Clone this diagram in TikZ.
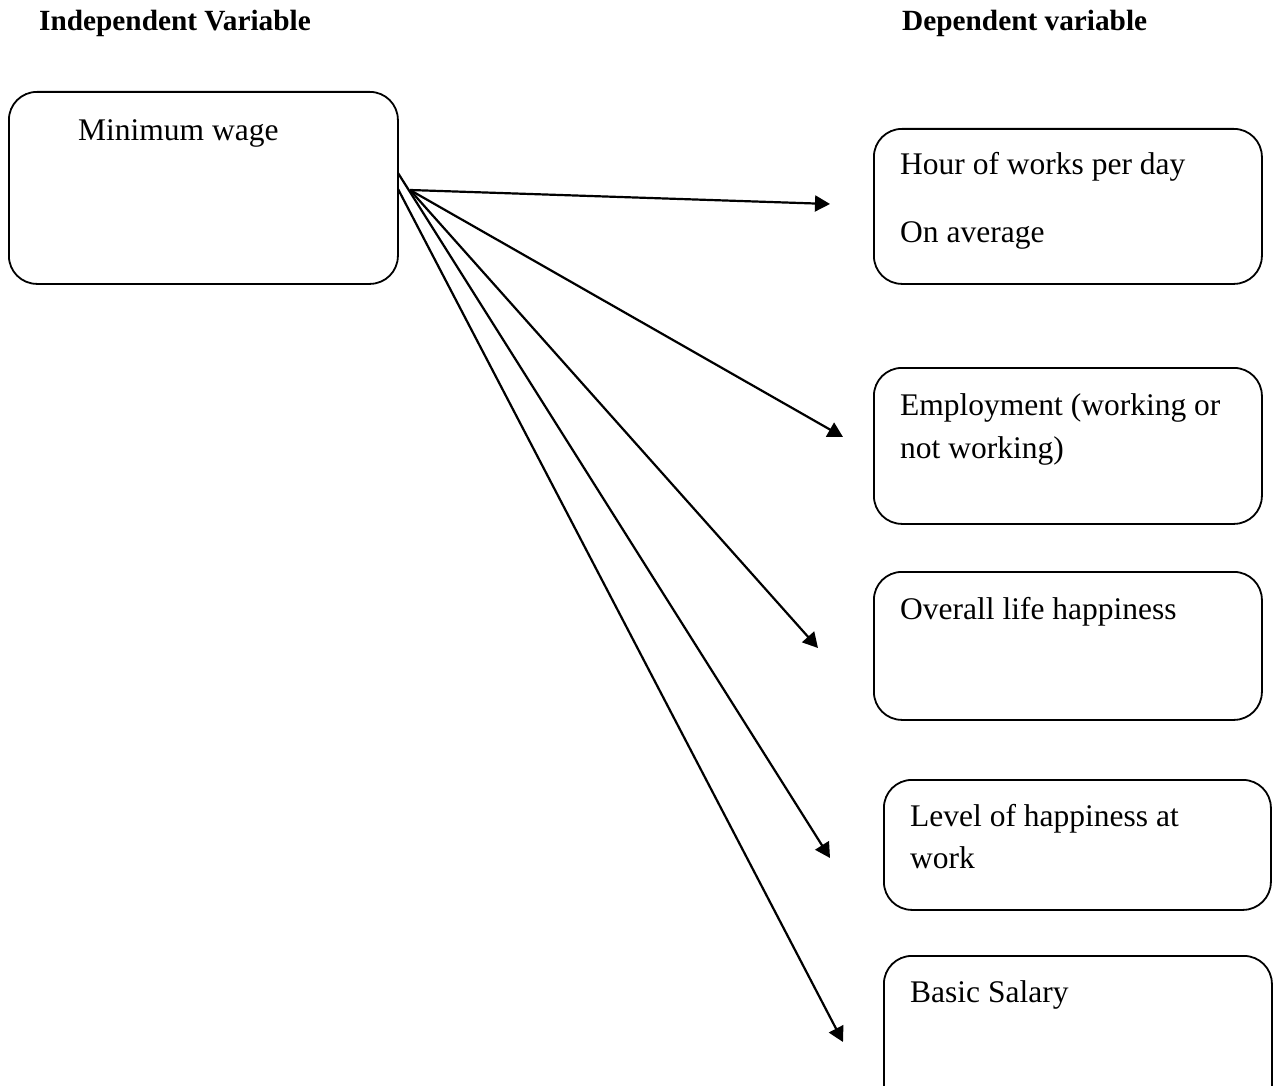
\documentclass[tikz,border=0pt]{standalone}
\usepackage{fontspec}
\setmainfont{Liberation Serif}
\usetikzlibrary{arrows.meta}
\tikzset{
  box/.style={draw=black, line width=1.8pt, rounded corners=28pt, anchor=north west, inner sep=0pt},
  txt/.style={anchor=base west, inner sep=0pt, font=\fontsize{31.5}{36}\selectfont},
  head/.style={anchor=base west, inner sep=0pt, font=\fontsize{29.3}{34}\selectfont\bfseries},
  arr/.style={line width=2.2pt, -{Triangle[length=15pt,width=16pt]}}
}
\begin{document}
\begin{tikzpicture}[x=1pt,y=-1pt]
\useasboundingbox (0,0) rectangle (1277,1086);
\begin{scope}
\clip (0,0) rectangle (1277,1086);
% headers
\node[head] (hind) at (39,31) {Independent Variable};
\node[head] (hdep) at (902,31) {Dependent variable};
% boxes
\node[box, minimum width=389pt, minimum height=192pt] (b0) at (8,91) {};
\node[box, minimum width=388pt, minimum height=155pt] (b1) at (873,128) {};
\node[box, minimum width=388pt, minimum height=156pt] (b2) at (873,367) {};
\node[box, minimum width=388pt, minimum height=148pt] (b3) at (873,571) {};
\node[box, minimum width=387pt, minimum height=130pt] (b4) at (883,779) {};
\node[box, minimum width=388pt, minimum height=160pt] (b5) at (883,955) {};
% texts
\node[txt] (t0) at (78,141) {Minimum wage};
\node[txt] (t1a) at (900,175) {Hour of works per day};
\node[txt] (t1b) at (900,243) {On average};
\node[txt] (t2a) at (900,415) {Employment (working or};
\node[txt] (t2b) at (900,458) {not working)};
\node[txt] (t3) at (900,619) {Overall life happiness};
\node[txt] (t4a) at (910,826) {Level of happiness at};
\node[txt] (t4b) at (910,868) {work};
\node[txt] (t5) at (910,1002) {Basic Salary};
% connector end points
\coordinate (sC) at (410,190);
\coordinate (sA) at (398,173);
\coordinate (sB) at (398,189);
\coordinate (e1) at (830,204);
\coordinate (e2) at (843,437);
\coordinate (e3) at (818,648);
\coordinate (e4) at (830,858);
\coordinate (e5) at (843,1042);
\draw[arr] (sC) -- (e1);
\draw[arr] (sC) -- (e2);
\draw[arr] (sC) -- (e3);
\draw[arr] (sA) -- (e4);
\draw[arr] (sB) -- (e5);
\end{scope}
\end{tikzpicture}
\end{document}
